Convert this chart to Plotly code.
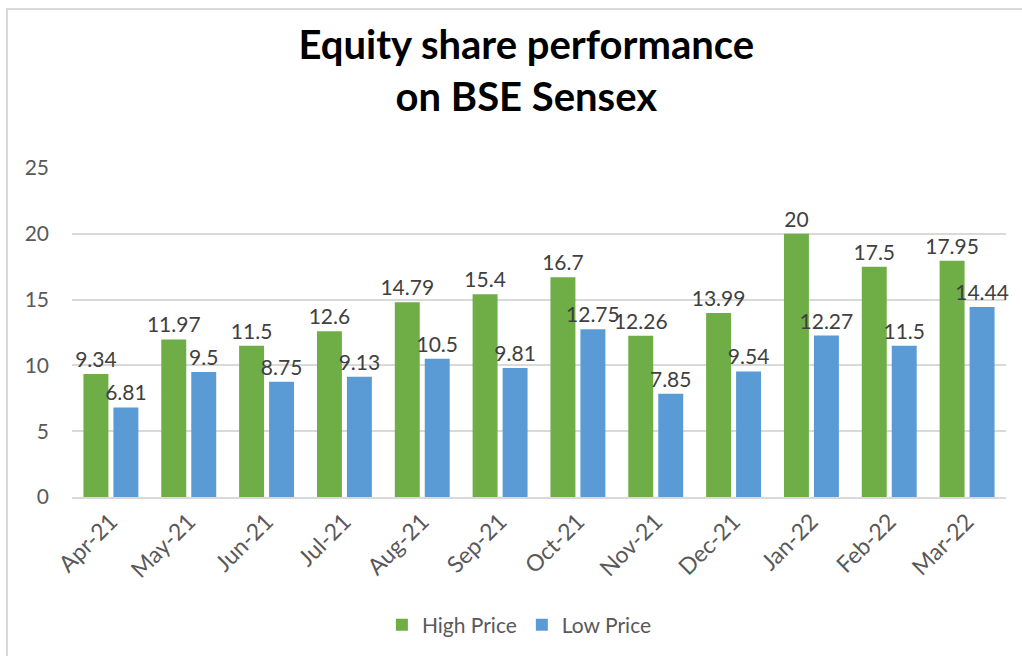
import plotly.graph_objects as go

months = ["Apr-21", "May-21", "Jun-21", "Jul-21", "Aug-21", "Sep-21",
          "Oct-21", "Nov-21", "Dec-21", "Jan-22", "Feb-22", "Mar-22"]
high_price = [9.34, 11.97, 11.5, 12.6, 14.79, 15.4, 16.7, 12.26, 13.99, 20, 17.5, 17.95]
low_price = [6.81, 9.5, 8.75, 9.13, 10.5, 9.81, 12.75, 7.85, 9.54, 12.27, 11.5, 14.44]

FONT = "Lato"
GRAY = "#404040"

fig = go.Figure()
fig.add_trace(go.Bar(
    name="High Price", x=months, y=high_price,
    marker=dict(color="#6fad47", line=dict(width=0)),
    text=[f"{v:g}" for v in high_price], textposition="outside",
    constraintext="none",
    textfont=dict(size=21, color=GRAY, family=FONT), cliponaxis=False,
))
fig.add_trace(go.Bar(
    name="Low Price", x=months, y=low_price,
    marker=dict(color="#5b9bd5", line=dict(width=0)),
    text=[f"{v:g}" for v in low_price], textposition="outside",
    constraintext="none",
    textfont=dict(size=21, color=GRAY, family=FONT), cliponaxis=False,
))

fig.update_layout(
    width=1022, height=656,
    margin=dict(l=72, r=16, t=168, b=159, autoexpand=False),
    paper_bgcolor="white", plot_bgcolor="white",
    font=dict(family=FONT, color="#595959"),
    title=dict(text="<b>Equity share performance<br>on BSE Sensex</b>",
               x=0.515, xanchor="center", y=0.91, yanchor="middle",
               font=dict(size=40, color="black", family=FONT)),
    barmode="group", bargap=0.23, bargroupgap=0.167,
    showlegend=True,
    legend=dict(orientation="h", x=0.479, xanchor="center", y=-0.389, yanchor="middle",
                font=dict(size=21, color="#595959", family=FONT),
                itemwidth=30, traceorder="normal"),
    xaxis=dict(tickangle=-45, tickfont=dict(size=23, color="#595959"),
               showgrid=False, showline=True, linecolor="#d9d9d9", linewidth=2,
               ticks="", automargin=False),
    yaxis=dict(range=[0, 25], dtick=5, tickfont=dict(size=21, color="#595959"),
               gridcolor="#d9d9d9", gridwidth=1.5, zeroline=False,
               showline=False, ticks="", ticklabelstandoff=22, automargin=False),
    shapes=[dict(type="rect", xref="paper", yref="paper",
                 x0=(7 - 72) / 934, x1=(1030 - 72) / 934,
                 y0=(497 - 670) / 329, y1=(497 - 9) / 329,
                 line=dict(color="#d9d9d9", width=2), layer="below")],
)

fig.write_html("out.html")
